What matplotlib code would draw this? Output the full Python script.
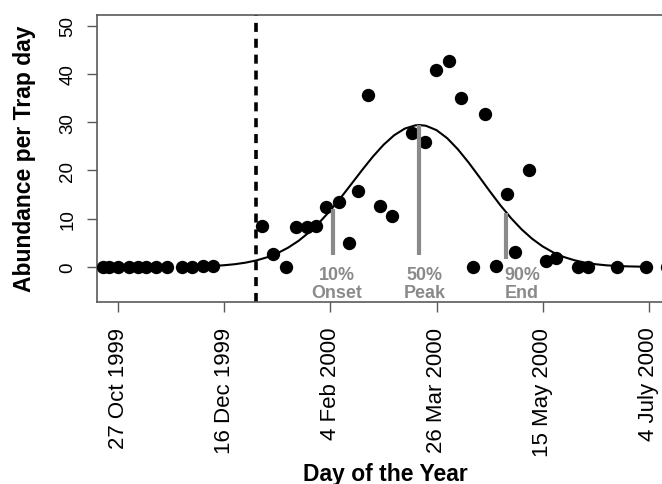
import matplotlib
matplotlib.use("Agg")
import matplotlib.pyplot as plt

plt.rcParams['font.family'] = ['Liberation Sans', 'DejaVu Sans']

# ---- data (day index: 300 = 27 Oct 1999) ----
obs_day = [292.6, 295.8, 299.7, 304.9, 309.1, 313.1, 317.8, 322.8, 330.1, 334.8,
           339.8, 344.8, 367.8, 372.8, 379.1, 383.9, 388.8, 393.0, 398.0, 404.0,
           408.7, 412.9, 417.7, 423.2, 429.2, 438.6, 444.4, 449.9, 455.9, 461.7,
           467.2, 472.7, 477.8, 483.0, 486.9, 493.6, 501.8, 506.2, 516.8, 521.2,
           534.9, 548.6, 558.6]
obs_abund = [0, 0, 0, 0, 0, 0, 0, 0, 0, 0,
             0.3, 0.3, 8.5, 2.7, 0, 8.2, 8.3, 8.4, 12.5, 13.4,
             5.0, 15.8, 35.7, 12.7, 10.6, 27.7, 25.9, 40.8, 42.7, 35.1,
             0, 31.6, 0.2, 15.1, 3.0, 20.0, 1.2, 1.8, 0, 0,
             0, 0, 0]

fit_day = [348, 350, 355, 360, 365, 370, 375, 380, 385, 390, 395, 400, 405, 410,
           415, 420, 425, 430, 435, 440, 442, 445, 450, 455, 460, 465, 470, 475,
           480, 485, 490, 495, 500, 505, 510, 515, 520, 525, 530, 535, 540, 545, 550]
fit_abund = [0.30, 0.36, 0.57, 0.89, 1.34, 1.98, 2.84, 3.98, 5.42, 7.20, 9.32, 11.74,
             14.42, 17.26, 20.12, 22.86, 25.30, 27.28, 28.66, 29.34, 29.40, 29.25,
             28.34, 26.68, 24.40, 21.69, 18.74, 15.73, 12.82, 10.16, 7.82, 5.85,
             4.25, 3.00, 2.06, 1.38, 0.89, 0.56, 0.34, 0.20, 0.12, 0.07, 0.04]

marker_day = [401.1, 441.7, 482.6]
marker_top = [12.07, 29.4, 11.2]
marker_bottom = [2.45, 2.45, 1.75]
marker_label = ["10%\nOnset", "50%\nPeak", "90%\nEnd"]
marker_label_day = [403.1, 444.5, 490.3]

season_start = 365.0

tick_days = [300, 350, 400, 450, 500, 550]
tick_labels = ["27 Oct 1999", "16 Dec 1999", "4 Feb 2000", "26 Mar 2000",
               "15 May 2000", "4 July 2000"]
y_ticks = [0, 10, 20, 30, 40, 50]

# ---- figure ----
W, H = 662, 485
fig = plt.figure(figsize=(W / 100, H / 100), dpi=100)
ax = fig.add_axes([97 / W, (H - 302.7) / H, (670 - 97) / W, (302.7 - 16) / H])

grey = '#8a8a8a'
spine_col = '#5a5a5a'

ax.axvline(season_start, color='black', lw=2.6, linestyle=(0, (2.5, 1.9)), zorder=2)
ax.plot(obs_day, obs_abund, 'o', color='black', ms=9.6, mew=0, zorder=3)
ax.plot(fit_day, fit_abund, color='black', lw=1.5, zorder=4)
ax.vlines(marker_day, marker_bottom, marker_top, color=grey, lw=3.0, zorder=5)
for xd, lab in zip(marker_label_day, marker_label):
    ax.text(xd, -3.45, lab, ha='center', va='center', color=grey,
            fontsize=12.9, fontweight='bold', linespacing=1.05, zorder=6)

ax.set_xlim(290, 560)
ax.set_ylim(-7.2, 52.2)
ax.set_xticks(tick_days)
ax.set_xticklabels(tick_labels, rotation=90, fontsize=16)
ax.set_yticks(y_ticks)
ax.set_yticklabels([str(v) for v in y_ticks], rotation=90, va='center', fontsize=13.5)

for s in ax.spines.values():
    s.set_color(spine_col)
    s.set_linewidth(1.2)
ax.tick_params(axis='both', direction='out', length=7, width=1.0, color=spine_col)
ax.tick_params(axis='x', pad=11)
ax.tick_params(axis='y', pad=8)

fig.text(25 / W, (H - 159) / H, "Abundance per Trap day", rotation=90,
         ha='center', va='center', fontsize=16.5, fontweight='bold')
fig.text(385 / W, (H - 481) / H, "Day of the Year", ha='center', va='baseline',
         fontsize=16.5, fontweight='bold')

fig.savefig("out.png", dpi=100)
